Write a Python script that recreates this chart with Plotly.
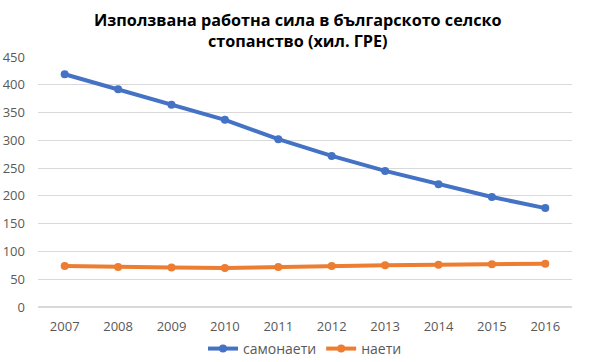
import plotly.graph_objects as go

years = ["2007", "2008", "2009", "2010", "2011", "2012", "2013", "2014", "2015", "2016"]
self_employed = [419, 392, 364, 337, 302, 272, 245, 221, 198, 178]
employed = [74, 72, 71, 70, 72, 74, 75, 76, 77, 78]
y_ticks = [0, 50, 100, 150, 200, 250, 300, 350, 400, 450]

fig = go.Figure()
fig.add_trace(go.Scatter(x=years, y=self_employed, name="самонаети", mode="lines+markers",
                         line=dict(color="#4472C4", width=4), marker=dict(size=8, color="#4472C4")))
fig.add_trace(go.Scatter(x=years, y=employed, name="наети", mode="lines+markers",
                         line=dict(color="#ED7D31", width=4), marker=dict(size=8, color="#ED7D31")))

fig.update_layout(
    width=589, height=362,
    margin=dict(l=38, r=17, t=57, b=55, autoexpand=False),
    paper_bgcolor="white", plot_bgcolor="white",
    font=dict(family="Open Sans, Liberation Sans, sans-serif", color="#595959", size=13),
    showlegend=True,
    legend=dict(orientation="h", x=0.5, xanchor="center", yref="container", y=0.036, yanchor="middle",
                itemwidth=30, font=dict(size=14, color="#595959")),
    annotations=[dict(text="<b>Използвана работна сила в българското селско<br>стопанство (хил. ГРЕ)</b>",
                      xref="paper", yref="paper", x=0.5, xshift=-7, xanchor="center",
                      y=1.0, yshift=50, yanchor="top", showarrow=False,
                      font=dict(size=16.2, color="#000000", family="Open Sans, sans-serif"))],
)
fig.update_xaxes(type="category", range=[-0.5, 9.5], showgrid=False, showline=False,
                 ticks="", ticklabelstandoff=10, tickfont=dict(size=13), automargin=False)
fig.update_yaxes(range=[0, 450], tickvals=y_ticks, showgrid=True, gridcolor="#D9D9D9",
                 gridwidth=1, zeroline=True, zerolinecolor="#D9D9D9", showline=False,
                 ticklabelstandoff=12, tickfont=dict(size=13), automargin=False)

fig.write_html("out.html", config={"displayModeBar": False},
               post_script="document.body.style.margin='0';")
